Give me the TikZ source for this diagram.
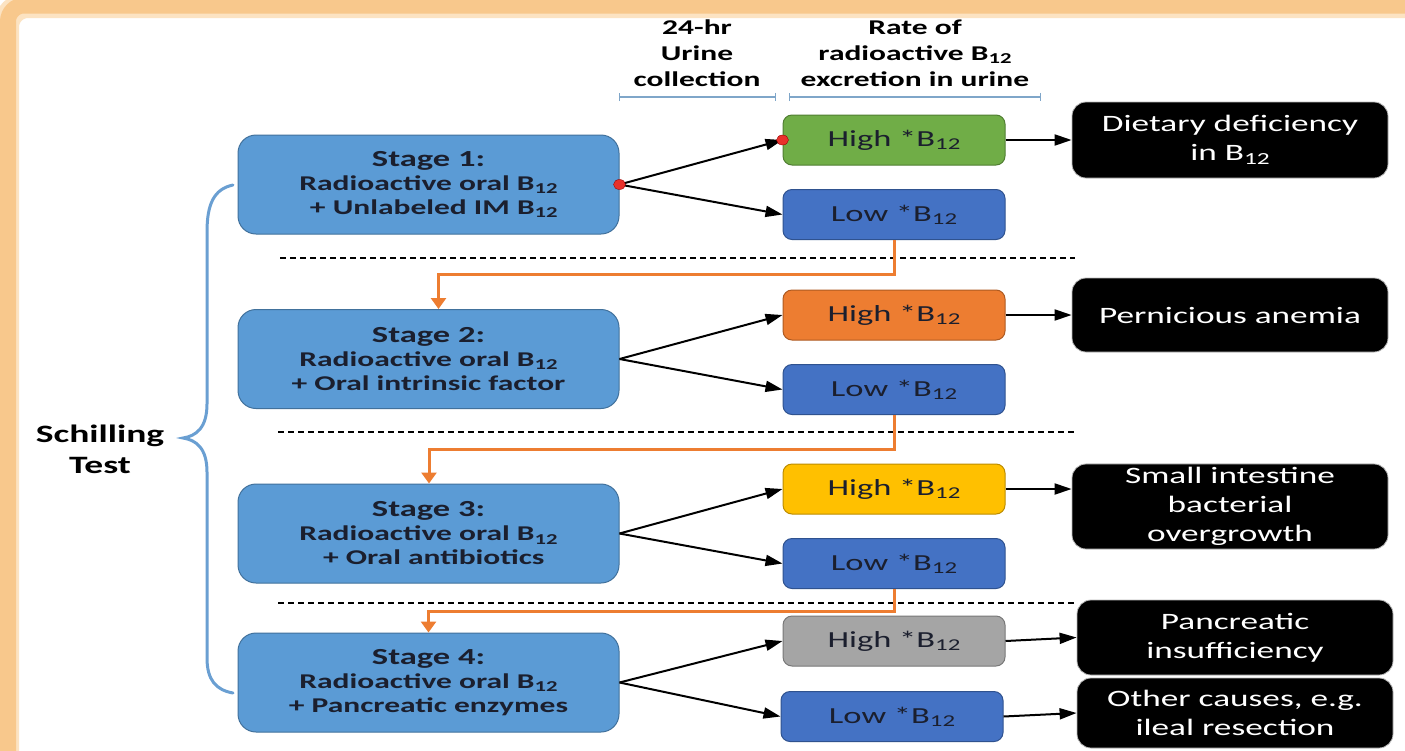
\documentclass[tikz,border=0pt]{standalone}
\usepackage{fontspec}
\setmainfont[FakeStretch=1.5]{Carlito}
\usetikzlibrary{arrows.meta,calc,shapes.geometric}

\definecolor{framepeach}{HTML}{F8C88C}
\definecolor{framelight}{HTML}{FCE3C2}
\definecolor{stagefill}{HTML}{5B9BD5}
\definecolor{stageline}{HTML}{41719C}
\definecolor{lowfill}{HTML}{4472C4}
\definecolor{lowline}{HTML}{2F528F}
\definecolor{greenfill}{HTML}{70AD47}
\definecolor{greenline}{HTML}{507E32}
\definecolor{orangefill}{HTML}{ED7D31}
\definecolor{orangeline}{HTML}{AE5A21}
\definecolor{yellowfill}{HTML}{FFC000}
\definecolor{yellowline}{HTML}{BC8C00}
\definecolor{grayfill}{HTML}{A5A5A5}
\definecolor{grayline}{HTML}{787878}
\definecolor{flowcol}{HTML}{ED7D31}
\definecolor{bracecol}{HTML}{6A9FD2}
\definecolor{spancol}{HTML}{7FA6C9}
\definecolor{textdark}{HTML}{1B1F2E}
\definecolor{dotred}{HTML}{E8312B}

% lowered, reduced subscript in the text font
\newcommand\subtxt[1]{\raisebox{-0.3ex}{\scalebox{0.72}{#1}}}
\newcommand\Btw{B\subtxt{12}}
\newcommand\stagehead[1]{{\fontsize{23}{24}\selectfont #1}}

\begin{document}
\begin{tikzpicture}[x=1pt,y=-1pt,
  stagebox/.style={draw=stageline, line width=1pt, fill=stagefill,
    rounded corners=18pt, minimum width=381pt, minimum height=99pt,
    align=center, text=textdark,
    font=\fontsize{21}{24}\selectfont\bfseries},
  ratebox/.style={draw=#1line, line width=1pt, fill=#1fill,
    rounded corners=9pt, minimum width=222pt, minimum height=50pt,
    text=textdark, font=\fontsize{23}{26}\selectfont},
  causebox/.style={draw=gray!55, line width=0.8pt, fill=black,
    rounded corners=14pt, minimum width=316pt, align=center,
    text=white, font=\fontsize{23.5}{29}\selectfont},
  headtext/.style={align=center, font=\fontsize{21}{26}\selectfont\bfseries},
  branch/.style={line width=2pt, -{Triangle[length=17pt,width=11pt]}},
  flow/.style={draw=flowcol, line width=3pt,
    -{Triangle[length=11pt,width=15pt]}},
  divider/.style={line width=1.3pt, dash pattern=on 6pt off 4pt},
  span/.style={draw=spancol, line width=1.3pt, |-|},
  reddot/.style={ellipse, fill=dotred, draw=red!60!black, line width=0.4pt,
    inner sep=0pt, minimum width=12pt, minimum height=10pt},
]
\useasboundingbox (0,0) rectangle (1405,750);
\clip (0,0) rectangle (1405,750);

% glowing frame along the top and left edges
\fill[white] (0,0) rectangle (1405,750);
\draw[framelight, line width=26pt, rounded corners=22pt] (6,5) rectangle (1440,790);
\draw[framepeach, line width=16pt, rounded corners=16pt] (8,5.5) rectangle (1440,790);

% column headings
\node[headtext] (hcollect) at (697,53) {24-hr\\Urine\\collection};
\node[headtext] (hrate) at (915,53) {Rate of\\radioactive \Btw\\excretion in urine};
\coordinate (sa) at (619,97);
\coordinate (sb) at (776,97);
\coordinate (sc) at (789,97);
\coordinate (sd) at (1041,97);
\draw[span] (sa) -- (sb);
\draw[span] (sc) -- (sd);

% stage boxes
\node[stagebox] (stage1) at (428.5,184.5) {\stagehead{Stage 1:}\\Radioactive oral \Btw\\\ \,+ Unlabeled IM \Btw};
\node[stagebox] (stage2) at (428.5,359) {\stagehead{Stage 2:}\\Radioactive oral \Btw\\+ Oral intrinsic factor};
\node[stagebox] (stage3) at (428.5,533.5) {\stagehead{Stage 3:}\\Radioactive oral \Btw\\\ \,+ Oral antibiotics};
\node[stagebox] (stage4) at (428.5,682.5) {\stagehead{Stage 4:}\\Radioactive oral \Btw\\+ Pancreatic enzymes};

% urinary excretion results
\node[ratebox=green]  (high1) at (894,140)   {High *\Btw};
\node[ratebox=low]    (low1)  at (894,214.5) {Low *\Btw};
\node[ratebox=orange] (high2) at (894,315)   {High *\Btw};
\node[ratebox=low]    (low2)  at (894,389.5) {Low *\Btw};
\node[ratebox=yellow] (high3) at (894,489)   {High *\Btw};
\node[ratebox=low]    (low3)  at (894,563.5) {Low *\Btw};
\node[ratebox=gray]   (high4) at (894,641)   {High *\Btw};
\node[ratebox=low]    (low4)  at (892,716.5) {Low *\Btw};

% diagnoses
\node[causebox, minimum height=76pt] (c1) at (1230,140) {Dietary deficiency\\in \Btw};
\node[causebox, minimum height=74pt] (c2) at (1230,315) {Pernicious anemia};
\node[causebox, minimum height=85pt] (c3) at (1230,506.5) {Small intestine\\bacterial\\overgrowth};
\node[causebox, minimum height=75pt] (c4) at (1235,637.5) {Pancreatic\\insufficiency};
\node[causebox, minimum height=70pt] (c5) at (1235,713) {Other causes, e.g.\\ileal resection};

% stage separators
\draw[divider] (280,258) -- (1075,258);
\draw[divider] (278,432) -- (1075,432);
\draw[divider] (278,603) -- (1075,603);

% branching arrows
\foreach \s in {1,2,3,4}{
  \draw[branch] (stage\s.east) -- (high\s.west);
  \draw[branch] (stage\s.east) -- (low\s.west);
}
\draw[branch] (high1.east) -- (c1.west);
\draw[branch] (high2.east) -- (c2.west);
\draw[branch] (high3.east) -- (c3.west |- high3.east);
\draw[branch] (high4.east) -- (c4.west);
\draw[branch] (low4.east) -- (c5.west);

% progression to the next stage
\draw[flow] (low1.south) -- ++(0,34) -| ([xshift=10pt]stage2.north);
\draw[flow] (low2.south) -- ++(0,34) -| ([xshift=0.5pt]stage3.north);
\draw[flow] (low3.south) -- ++(0,22) -| (stage4.north);

% marker dots
\node[reddot] (dot1) at (stage1.east) {};
\node[reddot] (dot2) at (high1.west) {};

% brace and label
\draw[bracecol, line width=3pt, line cap=round]
  (233,185) .. controls (214,189) and (207,204) .. (207,232)
  -- (207,404) .. controls (207,428) and (196,436) .. (183,438)
  .. controls (196,440) and (207,448) .. (207,472)
  -- (207,658) .. controls (207,680) and (216,690) .. (233,693);
\node[align=center, font=\fontsize{25}{31}\selectfont\bfseries] (title) at (100,449) {Schilling\\Test};
\end{tikzpicture}
\end{document}
